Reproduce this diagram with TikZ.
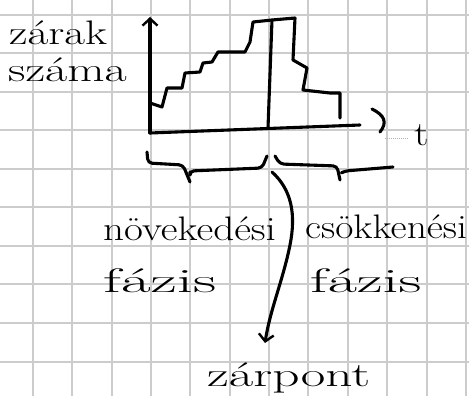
\documentclass[tikz,border=0pt]{standalone}
\usepackage{fontspec}
\usetikzlibrary{arrows.meta}
\newcommand{\hx}[2]{\scalebox{#1}[1]{#2}}
\begin{document}
\begin{tikzpicture}[x=1pt,y=-1pt,
  gridline/.style={draw=gray!40,line width=1.2pt},
  pen/.style={draw=black,line width=3.1pt,line cap=round,line join=round},
  hand/.style={font=\fontsize{34}{38}\selectfont,inner sep=0pt,anchor=base west},
  barb/.style={-{Straight Barb[length=7pt,width=15pt,line width=2.4pt]}}]
\useasboundingbox (0,0) rectangle (469,396);
\fill[white] (0,0) rectangle (469,396);
% grid paper
\foreach \gx in {33,72,112,151,190,230,269,308,348,387,427,466}
  \draw[gridline] (\gx,0) -- (\gx,396);
\foreach \gy in {15,53,92,130,169,207,246,284,323,362}
  \draw[gridline] (0,\gy) -- (469,\gy);
% axes
\coordinate (origin) at (150,133);
\coordinate (ytop) at (150,17);
\coordinate (xend) at (360,125);
\draw[pen,barb] (origin) -- (ytop);
\draw[pen] (origin) -- (xend);
\draw[pen] (372,109) .. controls (384,115) and (388,122) .. (380,132);
\draw[gray!60,line width=1pt,densely dotted] (385,138) -- (408,138);
% staircase
\draw[pen] (150,103) -- (162,107) -- (167,88) -- (182,88) -- (185,73) -- (200,72)
  -- (203,63) -- (212,62) -- (218,52) -- (245,52) -- (250,42) -- (253,22)
  -- (272,20) -- (295,18) -- (293,60) -- (307,68) -- (303,90) -- (330,93)
  -- (340,93) -- (340,118);
% lock point line
\coordinate (lpTop) at (272,20);
\coordinate (lpBot) at (268,128);
\draw[pen] (lpTop) -- (lpBot);
% horizontal braces
\draw[pen,rounded corners=4pt] (147,152) -- (148,163) -- (183,165) -- (190,182);
\draw[pen,rounded corners=4pt] (190,172) -- (190,171) -- (262,168) -- (267,156);
\draw[pen,rounded corners=4pt] (275,156) -- (280,164) -- (337,166) -- (340,180);
\draw[pen,rounded corners=4pt] (343,172) -- (345,171) -- (393,167);
% labels
\node[hand] (zarak) at (9,45) {\hx{1.33}{zárak}};
\node[hand] (szama) at (8,82) {\hx{1.42}{száma}};
\node[hand] (t) at (414,145) {\hx{1.2}{t}};
\node[hand] (nov) at (103,240) {\hx{1.21}{növekedési}};
\node[hand] (fazisA) at (103,292) {\hx{1.9}{fázis}};
\node[hand] (csok) at (305,238) {\hx{1.16}{csökkenési}};
\node[hand] (fazisB) at (310,292) {\hx{1.87}{fázis}};
\node[hand] (zarpont) at (207,386) {\hx{1.57}{zárpont}};
% brace to lock point
\coordinate (split) at (272,172);
\coordinate (tip) at (265,343);
\draw[pen,barb] (split) .. controls (292,190) and (296,215) .. (290,245)
  .. controls (283,280) and (270,310) .. (tip);
\end{tikzpicture}
\end{document}
